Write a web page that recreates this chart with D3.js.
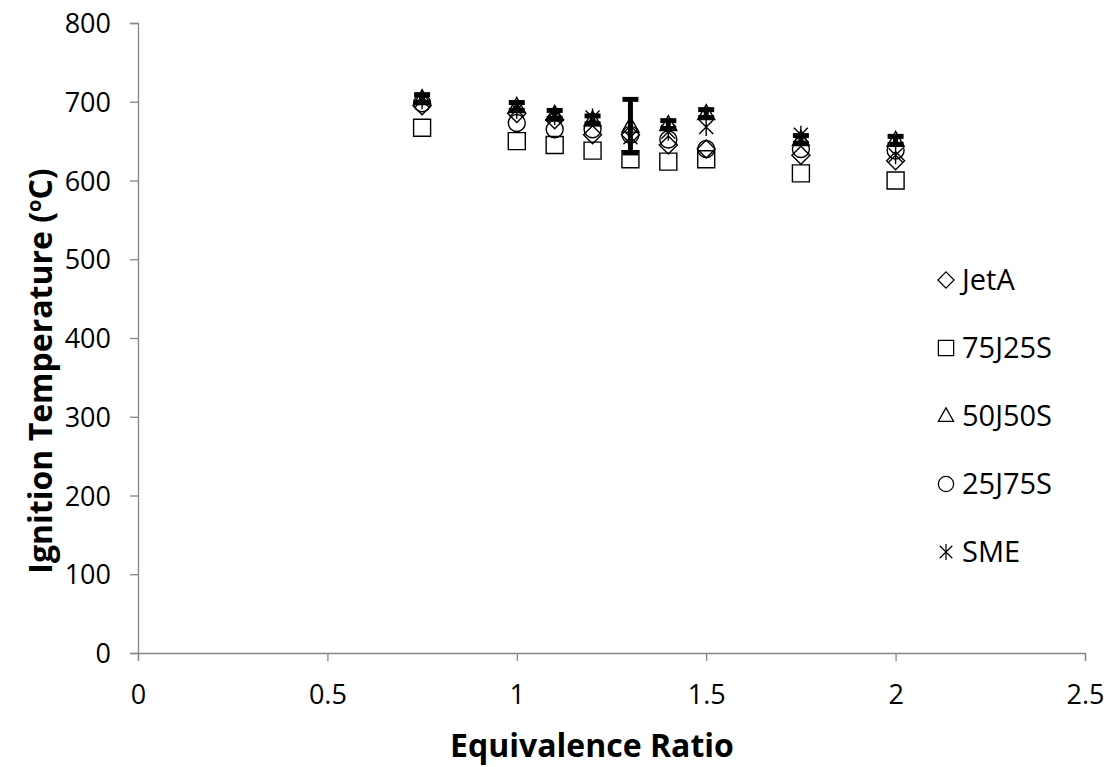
<!DOCTYPE html>
<html>
<head>
<meta charset="utf-8">
<script src="https://cdn.jsdelivr.net/npm/d3@7"></script>
<style>
  body { margin: 0; background: #fff; }
  text { font-family: "Open Sans", "Liberation Sans", sans-serif; }
</style>
</head>
<body>
<div id="chart"></div>
<script>
// equivalence ratios
const phi = [0.75, 1.0, 1.1, 1.2, 1.3, 1.4, 1.5, 1.75, 2.0];

// ignition temperatures (oC) per fuel
const jetA   = [695, 685, 677, 658, 658, 645, 640, 632, 625];
const j75s25 = [667, 650, 645, 638, 627, 624, 627, 609, 600];
const j50s50 = [704, 694, 684, 677, 669, 671, 685, 652, 651];
const j25s75 = [698, 673, 665, 665, 658, 652, 640, 640, 638];
const sme    = [702, 690, 682, 680, 655, 662, 668, 658, 632];

// error bar half-widths for 50J50S
const err50 = [5, 5, 5, 5, 34, 5, 5, 5, 5];

const xTicks = [0, 0.5, 1, 1.5, 2, 2.5];
const yTicks = [0, 100, 200, 300, 400, 500, 600, 700, 800];

const series = [
    { name: "JetA", sym: "diamond", vals: jetA },
    { name: "75J25S", sym: "square", vals: j75s25 },
    { name: "50J50S", sym: "triangle", vals: j50s50 },
    { name: "25J75S", sym: "circle", vals: j25s75 },
    { name: "SME", sym: "star", vals: sme }
];

const W = 1118, H = 767;
const margin = { top: 23, right: 33, bottom: 114, left: 138 };
const width = W - margin.left - margin.right;
const height = H - margin.top - margin.bottom;

const svg = d3.select("#chart").append("svg")
    .attr("width", W)
    .attr("height", H);

const g = svg.append("g")
    .attr("transform", "translate(" + margin.left + "," + margin.top + ")");

const x = d3.scaleLinear().domain([0, 2.5]).range([0, width]);
const y = d3.scaleLinear().domain([0, 800]).range([height, 0]);

// axes
const xAxis = d3.axisBottom(x).tickValues(xTicks).tickSize(8).tickFormat(d3.format("~g"));
const yAxis = d3.axisLeft(y).tickValues(yTicks).tickSize(8);

g.append("g")
    .attr("class", "x-axis")
    .attr("transform", "translate(0," + height + ")")
    .call(xAxis);

g.append("g")
    .attr("class", "y-axis")
    .call(yAxis);

g.selectAll(".domain").attr("stroke", "#868686").attr("stroke-width", 1.3);
g.selectAll(".tick line").attr("stroke", "#868686").attr("stroke-width", 1.3);
g.selectAll(".tick text").attr("fill", "#000").attr("font-size", 27)
    .style("font-family", "'Open Sans', sans-serif");
g.select(".x-axis").selectAll(".tick text").attr("y", 51).attr("dy", 0);
g.select(".y-axis").selectAll(".tick text").attr("x", -27).attr("dy", "0.36em");

// axis titles
svg.append("text")
    .attr("x", 592)
    .attr("y", 757)
    .attr("text-anchor", "middle")
    .attr("font-size", 32)
    .attr("font-weight", "bold")
    .text("Equivalence Ratio");

const yTitle = svg.append("text")
    .attr("transform", "translate(52,371) rotate(-90)")
    .attr("text-anchor", "middle")
    .attr("font-size", 32)
    .attr("font-weight", "bold");
yTitle.append("tspan").text("Ignition Temperature (");
yTitle.append("tspan").attr("font-size", 20).attr("dy", -11).text("o");
yTitle.append("tspan").attr("dy", 11).text("C)");

// marker shapes
function markerPath(sym) {
    if (sym === "diamond") return "M0,-9L9,0L0,9L-9,0Z";
    if (sym === "square") return "M-8.5,-8.5H8.5V8.5H-8.5Z";
    if (sym === "triangle") return "M0,-9L8.5,6H-8.5Z";
    if (sym === "circle") return d3.symbol().type(d3.symbolCircle).size(Math.PI * 72)();
    return "M-7,-7L7,7M-7,7L7,-7M0,-9V9";
}

function drawMarker(sel, sym) {
    sel.append("path")
        .attr("d", markerPath(sym))
        .attr("fill", "none")
        .attr("stroke", "#000")
        .attr("stroke-width", 1.4);
}

// error bars for 50J50S
const errData = phi.map((p, i) => ({ p: p, v: j50s50[i], e: err50[i] }));
const eb = g.selectAll(".errbar").data(errData).enter().append("g").attr("class", "errbar");
eb.append("line")
    .attr("x1", d => x(d.p)).attr("x2", d => x(d.p))
    .attr("y1", d => y(d.v + d.e)).attr("y2", d => y(d.v - d.e))
    .attr("stroke", "#000").attr("stroke-width", 5);
[1, -1].forEach(s => {
    eb.append("line")
        .attr("x1", d => x(d.p) - 8).attr("x2", d => x(d.p) + 8)
        .attr("y1", d => y(d.v + s * d.e)).attr("y2", d => y(d.v + s * d.e))
        .attr("stroke", "#000").attr("stroke-width", 5);
});

// points
series.forEach(s => {
    const pts = phi.map((p, i) => ({ p: p, v: s.vals[i] }));
    g.selectAll(".pt-" + s.sym).data(pts).enter().append("g")
        .attr("class", "pt-" + s.sym)
        .attr("transform", d => "translate(" + x(d.p) + "," + y(d.v) + ")")
        .each(function() { drawMarker(d3.select(this), s.sym); });
});

// legend
const legend = svg.append("g").attr("transform", "translate(946,280)");
series.forEach((s, i) => {
    const row = legend.append("g").attr("transform", "translate(0," + i * 68 + ")");
    const m = row.append("g").attr("transform", "scale(0.9)");
    drawMarker(m, s.sym);
    row.append("text")
        .attr("x", 16)
        .attr("y", 0)
        .attr("dy", "0.36em")
        .attr("font-size", 29)
        .text(s.name);
});
</script>
</body>
</html>
